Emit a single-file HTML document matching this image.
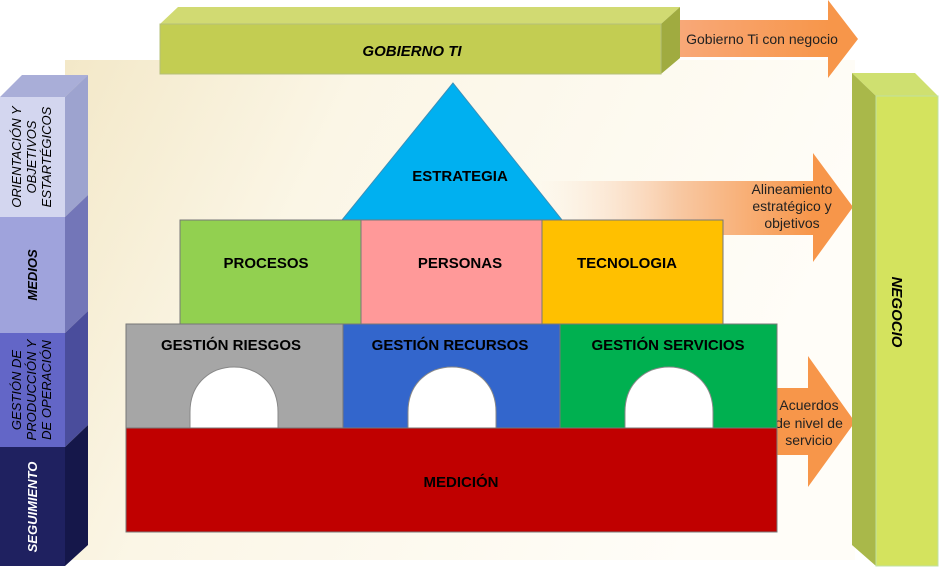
<!DOCTYPE html>
<html><head><meta charset="utf-8"><style>
body{margin:0;background:#fff}
svg{display:block}
text{font-family:"Liberation Sans",Arial,sans-serif}
</style></head><body>
<svg width="941" height="568" viewBox="0 0 941 568" xmlns="http://www.w3.org/2000/svg">
<defs>
<linearGradient id="bg" x1="0" y1="0" x2="1" y2="0.3">
<stop offset="0" stop-color="#f3e8c8"/><stop offset="0.35" stop-color="#fbf6e6"/><stop offset="1" stop-color="#fffdf8"/>
</linearGradient>
<linearGradient id="ar" x1="540" y1="0" x2="813" y2="0" gradientUnits="userSpaceOnUse">
<stop offset="0" stop-color="#fbe3d0" stop-opacity="0"/><stop offset="0.5" stop-color="#f8c9a4"/><stop offset="1" stop-color="#f7964a"/>
</linearGradient>
<linearGradient id="ar2" x1="680" y1="0" x2="830" y2="0" gradientUnits="userSpaceOnUse">
<stop offset="0" stop-color="#f8a878"/><stop offset="1" stop-color="#f7964a"/>
</linearGradient>
</defs>
<rect x="65" y="60" width="790" height="500" fill="url(#bg)"/>
<polygon points="680,20 828,20 828,0 858,39 828,78 828,57 680,57" fill="url(#ar2)"/>
<text x="762" y="44" font-size="14" text-anchor="middle" fill="#222">Gobierno  Ti con negocio</text>
<polygon points="160,24 178,7 680,7 661,24" fill="#d1da72"/>
<polygon points="661,24 680,7 680,58 661,74" fill="#a0ab40"/>
<rect x="160" y="24" width="501" height="50" fill="#c3cd52" stroke="#b5c079"/>
<text x="412" y="56" font-size="15" font-style="italic" font-weight="bold" text-anchor="middle">GOBIERNO TI</text>
<polygon points="540,181 813,181 813,153 853,207 813,262 813,235 540,235" fill="url(#ar)"/>
<text font-size="14" text-anchor="middle" fill="#222"><tspan x="792" y="194">Alineamiento</tspan><tspan x="792" y="211">estratégico y</tspan><tspan x="792" y="228">objetivos</tspan></text>
<polygon points="776,388 808,388 808,356 855,422 808,487 808,455 776,455" fill="#f7964a"/>
<text font-size="14" text-anchor="middle" fill="#222"><tspan x="809" y="410">Acuerdos</tspan><tspan x="809" y="428">de nivel de</tspan><tspan x="809" y="445">servicio</tspan></text>
<polygon points="852,73 915,73 938,96 876,96" fill="#cfe070"/>
<polygon points="852,73 876,96 876,566 852,545" fill="#a9b84a"/>
<rect x="876" y="96" width="62" height="470" fill="#d4e35e" stroke="#c0e0a0"/>
<text transform="translate(892,312) rotate(90)" font-size="15" font-weight="bold" font-style="italic" text-anchor="middle">NEGOCIO</text>
<polygon points="453,83 342,220 562,220" fill="#00b0f0" stroke="#3a8fb8"/>
<text x="460" y="181" font-size="15" font-weight="bold" text-anchor="middle">ESTRATEGIA</text>
<rect x="180" y="220" width="181" height="104" fill="#92d050" stroke="#777"/>
<rect x="361" y="220" width="181" height="104" fill="#ff9999" stroke="#777"/>
<rect x="542" y="220" width="181" height="104" fill="#ffc000" stroke="#777"/>
<text font-size="15" font-weight="bold" text-anchor="middle"><tspan x="266" y="268">PROCESOS</tspan><tspan x="460" y="268">PERSONAS</tspan><tspan x="627" y="268">TECNOLOGIA</tspan></text>
<rect x="126" y="324" width="217" height="104" fill="#a6a6a6" stroke="#777"/>
<rect x="343" y="324" width="217" height="104" fill="#3366cc" stroke="#777"/>
<rect x="560" y="324" width="217" height="104" fill="#00b050" stroke="#777"/>
<text font-size="15" font-weight="bold" text-anchor="middle"><tspan x="231" y="350">GESTIÓN RIESGOS</tspan><tspan x="450" y="350">GESTIÓN RECURSOS</tspan><tspan x="668" y="350">GESTIÓN SERVICIOS</tspan></text>
<path d="M190,428 L190,412 C190,352 278,352 278,412 L278,428 Z" fill="#fff" stroke="#888"/>
<path d="M408,428 L408,412 C408,352 496,352 496,412 L496,428 Z" fill="#fff" stroke="#888"/>
<path d="M625,428 L625,412 C625,352 713,352 713,412 L713,428 Z" fill="#fff" stroke="#888"/>
<rect x="126" y="428" width="651" height="104" fill="#c00000" stroke="#777"/>
<text x="461" y="487" font-size="15" font-weight="bold" text-anchor="middle">MEDICIÓN</text>
<polygon points="0,97 22,75 88,75 65,97" fill="#a9aed8"/>
<polygon points="65,97 88,75 88,195 65,217" fill="#9da3cf"/>
<polygon points="65,217 88,195 88,311 65,333" fill="#7376b8"/>
<polygon points="65,333 88,311 88,425 65,447" fill="#4a4d9c"/>
<polygon points="65,447 88,425 88,545 65,566" fill="#15174a"/>
<rect x="0" y="97" width="65" height="120" fill="#d3d6ef"/>
<rect x="0" y="217" width="65" height="116" fill="#9fa3dc"/>
<rect x="0" y="333" width="65" height="114" fill="#6366c7"/>
<rect x="0" y="447" width="65" height="119" fill="#1f2160"/>
<g font-size="13" font-style="italic" text-anchor="middle">
<text transform="translate(32,157) rotate(-90)"><tspan x="0" y="-11">ORIENTACIÓN Y</tspan><tspan x="0" y="4">OBJETIVOS</tspan><tspan x="0" y="19">ESTARTÉGICOS</tspan></text>
<text transform="translate(37,275) rotate(-90)" font-weight="bold">MEDIOS</text>
<text transform="translate(32,390) rotate(-90)"><tspan x="0" y="-11">GESTIÓN DE</tspan><tspan x="0" y="4">PRODUCCIÓN Y</tspan><tspan x="0" y="19">DE OPERACIÓN</tspan></text>
<text transform="translate(37,507) rotate(-90)" fill="#fff" font-weight="bold">SEGUIMIENTO</text>
</g>
</svg>
</body></html>
